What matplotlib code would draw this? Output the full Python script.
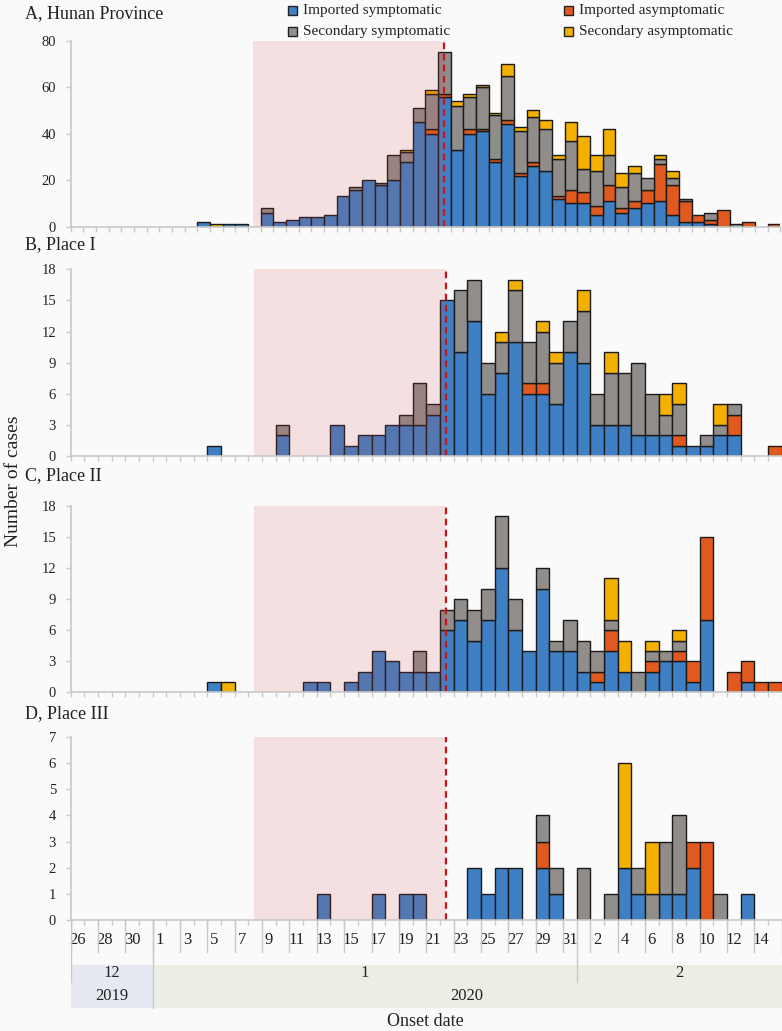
import matplotlib
matplotlib.use('Agg')
import matplotlib.pyplot as plt
import numpy as np
from matplotlib.patches import Rectangle

plt.rcParams['font.family'] = ['Liberation Serif', 'DejaVu Serif']

# ---------------- data ----------------
series_labels = ['Imported symptomatic', 'Imported asymptomatic',
                 'Secondary symptomatic', 'Secondary asymptomatic']
series_colors = ['#3e80c3', '#e05a1f', '#918d8a', '#f4b000']

# Panel A (Hunan Province), 56 daily slots
A_imp_sym = [0,0,0,0,0,0,0,0,0,0, 2,0,1,1,0,6,2,3,4,4,
             5,13,16,20,18,20,28,45,40,56, 33,40,41,28,44,22,26,24,12,10,
             10,5,11,6,8,10,11,5,2,2, 1,0,0,0,0,0]
A_imp_asym = [0,0,0,0,0,0,0,0,0,0, 0,0,0,0,0,0,0,0,0,0,
              0,0,0,0,0,0,0,0,2,1, 0,2,1,1,2,1,2,0,1,6,
              5,4,7,2,3,6,16,13,9,3, 2,7,0,2,0,1]
A_sec_sym = [0,0,0,0,0,0,0,0,0,0, 0,0,0,0,0,2,0,0,0,0,
             0,0,1,0,1,11,4,6,15,18, 19,14,18,19,19,18,19,18,16,21,
             10,15,13,9,12,5,2,3,1,0, 3,0,1,0,0,0]
A_sec_asym = [0,0,0,0,0,0,0,0,0,0, 0,1,0,0,0,0,0,0,0,0,
              0,0,0,0,0,0,1,0,2,0, 2,1,1,1,5,2,3,4,2,8,
              14,7,11,6,3,0,2,3,0,0, 0,0,0,0,0,0]

# Panel B (Place I), 52 daily slots: 26 Dec 2019 - 15 Feb 2020
B_imp_sym = [0,0,0,0,0,0,0,0,0,0, 1,0,0,0,0,2,0,0,0,3,
             1,2,2,3,3,3,4,15,10,13, 6,8,11,6,6,5,10,9,3,3,
             3,2,2,2,1,1,1,2,2,0, 0,0]
B_imp_asym = [0,0,0,0,0,0,0,0,0,0, 0,0,0,0,0,0,0,0,0,0,
              0,0,0,0,0,0,0,0,0,0, 0,0,0,1,1,0,0,0,0,0,
              0,0,0,0,1,0,0,0,2,0, 0,1]
B_sec_sym = [0,0,0,0,0,0,0,0,0,0, 0,0,0,0,0,1,0,0,0,0,
             0,0,0,0,1,4,1,0,6,4, 3,3,5,4,5,4,3,5,3,5,
             5,7,4,2,3,0,1,1,1,0, 0,0]
B_sec_asym = [0,0,0,0,0,0,0,0,0,0, 0,0,0,0,0,0,0,0,0,0,
              0,0,0,0,0,0,0,0,0,0, 0,1,1,0,1,1,0,2,0,2,
              0,0,0,2,2,0,0,2,0,0, 0,0]

# Panel C (Place II)
C_imp_sym = [0,0,0,0,0,0,0,0,0,0, 1,0,0,0,0,0,0,1,1,0,
             1,2,4,3,2,2,2,6,7,5, 7,12,6,4,10,4,4,2,1,4,
             2,0,2,3,3,1,7,0,0,1, 0,0]
C_imp_asym = [0,0,0,0,0,0,0,0,0,0, 0,0,0,0,0,0,0,0,0,0,
              0,0,0,0,0,0,0,0,0,0, 0,0,0,0,0,0,0,0,1,2,
              0,0,1,0,1,2,8,0,2,2, 1,1]
C_sec_sym = [0,0,0,0,0,0,0,0,0,0, 0,0,0,0,0,0,0,0,0,0,
             0,0,0,0,0,2,0,2,2,3, 3,5,3,0,2,1,3,3,2,1,
             0,2,1,1,1,0,0,0,0,0, 0,0]
C_sec_asym = [0,0,0,0,0,0,0,0,0,0, 0,1,0,0,0,0,0,0,0,0,
              0,0,0,0,0,0,0,0,0,0, 0,0,0,0,0,0,0,0,0,4,
              3,0,1,0,1,0,0,0,0,0, 0,0]

# Panel D (Place III)
D_imp_sym = [0,0,0,0,0,0,0,0,0,0, 0,0,0,0,0,0,0,0,1,0,
             0,0,1,0,1,1,0,0,0,2, 1,2,2,0,2,1,0,0,0,0,
             2,1,0,1,1,2,0,0,0,1, 0,0]
D_imp_asym = [0,0,0,0,0,0,0,0,0,0, 0,0,0,0,0,0,0,0,0,0,
              0,0,0,0,0,0,0,0,0,0, 0,0,0,0,1,0,0,0,0,0,
              0,0,0,0,0,1,3,0,0,0, 0,0]
D_sec_sym = [0,0,0,0,0,0,0,0,0,0, 0,0,0,0,0,0,0,0,0,0,
             0,0,0,0,0,0,0,0,0,0, 0,0,0,0,1,1,0,2,0,1,
             0,1,1,2,3,0,0,1,0,0, 0,0]
D_sec_asym = [0,0,0,0,0,0,0,0,0,0, 0,0,0,0,0,0,0,0,0,0,
              0,0,0,0,0,0,0,0,0,0, 0,0,0,0,0,0,0,0,0,0,
              4,0,2,0,0,0,0,0,0,0, 0,0]

x_tick_labels = ['26', '28', '30', '1', '3', '5', '7', '9', '11', '13', '15',
                 '17', '19', '21', '23', '25', '27', '29', '31', '2', '4',
                 '6', '8', '10', '12', '14']
month_labels = ['12', '1', '2']
year_labels = ['2019', '2020']

panel_titles = ['A, Hunan Province', 'B, Place I', 'C, Place II', 'D, Place III']

# ---------------- layout ----------------
W, H = 782, 1031
BG = '#fafafa'
AXC = '#c8c8c8'
TXT = '#222222'
SHADE = (210/255, 70/255, 83/255)
fig = plt.figure(figsize=(W/100, H/100), dpi=100, facecolor=BG)


def px_axes(left, top, right, bottom):
    return fig.add_axes([left/W, 1-bottom/H, (right-left)/W, (bottom-top)/H])


def draw_panel(ax, series, ymax, yticks, shade, dash):
    n = len(series[0])
    x = np.arange(n)
    base = np.zeros(n)
    for vals, col in zip(series, series_colors):
        v = np.array(vals, dtype=float)
        m = v > 0
        ax.bar(x[m], v[m], width=1.0, bottom=base[m], color=col,
               edgecolor='#1a1a1a', linewidth=1.0, zorder=2)
        base += v
    ax.axvspan(shade[0], shade[1], color=SHADE, alpha=0.15, lw=0, zorder=3)
    ax.plot([dash, dash], [0, ymax], color='#c4161c', lw=1.6,
            ls=(0, (3, 2)), zorder=4, clip_on=False)
    ax.set_xlim(-0.5, n - 0.5)
    ax.set_ylim(0, ymax)
    ax.set_facecolor(BG)
    for s in ['top', 'right']:
        ax.spines[s].set_visible(False)
    for s in ['left', 'bottom']:
        ax.spines[s].set_color(AXC)
        ax.spines[s].set_linewidth(1.2)
    ax.spines['bottom'].set_zorder(5)
    ax.set_yticks(yticks)
    ax.tick_params(axis='y', length=3.6, color=AXC, width=1, labelsize=10.5,
                   labelcolor=TXT, pad=7)
    ax.set_xticks(np.arange(n + 1) - 0.5, minor=True)
    ax.set_xticks([])
    ax.tick_params(axis='x', which='minor', length=3.6, color=AXC, width=1)
    return n


axA = px_axes(70.7, 40.7, 780.2, 226.7)
draw_panel(axA, [A_imp_sym, A_imp_asym, A_sec_sym, A_sec_asym], 80,
           [0, 20, 40, 60, 80], (13.86, 28.96), 28.96)

axB = px_axes(70.7, 269.3, 781.7, 456)
draw_panel(axB, [B_imp_sym, B_imp_asym, B_sec_sym, B_sec_asym], 18,
           [0, 3, 6, 9, 12, 15, 18], (12.9, 26.95), 26.95)

axC = px_axes(70.7, 506, 781.7, 692.3)
draw_panel(axC, [C_imp_sym, C_imp_asym, C_sec_sym, C_sec_asym], 18,
           [0, 3, 6, 9, 12, 15, 18], (12.9, 26.95), 26.95)

axD = px_axes(70.7, 737, 781.7, 920)
nD = draw_panel(axD, [D_imp_sym, D_imp_asym, D_sec_sym, D_sec_asym], 7,
                [0, 1, 2, 3, 4, 5, 6, 7], (12.91, 26.95), 26.95)
axD.set_xticks(np.arange(0, nD, 2))
axD.set_xticklabels(x_tick_labels)
axD.tick_params(axis='x', which='major', length=0, pad=9, labelsize=12,
                labelcolor=TXT)

# category axis (tick separators, month / year bands)
axK = px_axes(70.7, 920, 781.7, 1012)
axK.set_xlim(-0.5, nD - 0.5)
axK.set_ylim(1012, 920)
axK.axis('off')
axK.patch.set_visible(False)
for xb in np.arange(-0.5, nD, 2):
    axK.plot([xb, xb], [920, 952], color=AXC, lw=1, zorder=1)
month_bounds = [(-0.5, 5.5), (5.5, 36.5), (36.5, nD - 0.5)]
axK.add_patch(Rectangle((-0.5, 965), 6, 43, fc='#e6e9f1', ec='none', zorder=0))
axK.add_patch(Rectangle((5.5, 965), nD - 6, 43, fc='#eceee6', ec='none', zorder=0))
for xb in [-0.5, 5.5, 36.5]:
    axK.plot([xb, xb], [920, 982], color=AXC, lw=1, zorder=1)
axK.plot([5.5, 5.5], [982, 1008], color=AXC, lw=1, zorder=1)
for (a, b), lab in zip(month_bounds, month_labels):
    axK.text((a + b) / 2, 973, lab, ha='center', va='center', fontsize=12,
             color=TXT)
for (a, b), lab in zip([(-0.5, 5.5), (5.5, nD - 0.5)], year_labels):
    axK.text((a + b) / 2, 996, lab, ha='center', va='center', fontsize=12,
             color=TXT)

fig.text(425 / W, 1 - 1022 / H, 'Onset date', ha='center', va='center',
         fontsize=13, color=TXT)
fig.text(13 / W, 1 - 481 / H, 'Number of cases', ha='center', va='center',
         rotation=90, fontsize=14, color=TXT)

for t, y in zip(panel_titles, [14, 245, 476, 714]):
    fig.text(25 / W, 1 - y / H, t, ha='left', va='center', fontsize=13,
             color=TXT)

# legend
leg_pos = [(288, 10.5), (564, 10.5), (288, 31.5), (564, 31.5)]
for (lx, ly), lab, col in zip(leg_pos, series_labels, series_colors):
    fig.add_artist(Rectangle((lx / W, 1 - (ly + 4.5) / H), 9 / W, 9 / H,
                             transform=fig.transFigure, fc=col, ec=TXT,
                             lw=1))
    fig.text((lx + 15) / W, 1 - ly / H, lab, ha='left', va='center',
             fontsize=11, color=TXT)

fig.savefig('out.png', dpi=100, facecolor=BG)
